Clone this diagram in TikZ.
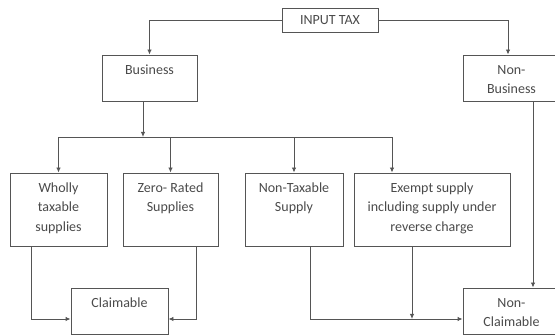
\documentclass[tikz,border=0pt]{standalone}
\usepackage{fontspec}
\setmainfont{Carlito}
\usetikzlibrary{arrows.meta,positioning}
\definecolor{linegray}{HTML}{555555}
\definecolor{textgray}{HTML}{4A4A4A}

\begin{document}
\begin{tikzpicture}[x=1pt,y=-1pt]

\tikzset{box/.style 2 args = {draw=linegray, line width=0.9pt, inner sep=0pt, minimum width=#1, minimum height=#2}}
\tikzset{txt/.style = {text=textgray, font=\fontsize{14}{19.5}\selectfont, align=center, inner sep=0pt, anchor=north}}
\tikzset{edge1/.style = {-{Latex[length=5pt,width=4.5pt]}, draw=linegray, line width=0.9pt}}

\useasboundingbox (0,0) rectangle (555,336);

% boxes
\node[box={96}{24}, text=textgray, font=\fontsize{14}{19.5}\selectfont] (tax) at (330,20) {INPUT TAX};
\node[box={95}{46}] (bus) at (149.5,78) {};
\node[box={97}{46}] (nonbus) at (511.5,78) {};
\node[box={97}{73}] (wholly) at (58.5,209.5) {};
\node[box={95}{73}] (zero) at (170.5,209.5) {};
\node[box={98}{73}] (nontax) at (294,209.5) {};
\node[box={156}{73}] (exempt) at (432,209.5) {};
\node[box={97}{46}] (claim) at (119.5,311) {};
\node[box={97}{46}] (nonclaim) at (511.5,311) {};

% texts
\node[txt] (busT) at ([yshift=-5.85pt]bus.north) {\strut Business};
\node[txt] (nonbusT) at ([yshift=-5.85pt]nonbus.north) {\strut Non-\\Business};
\node[txt] (whollyT) at ([yshift=-5.85pt]wholly.north) {\strut Wholly\\taxable\\supplies};
\node[txt] (zeroT) at ([yshift=-5.85pt]zero.north) {\strut Zero- Rated\\Supplies};
\node[txt] (nontaxT) at ([yshift=-5.85pt]nontax.north) {\strut Non-Taxable\\Supply};
\node[txt] (exemptT) at ([yshift=-5.85pt]exempt.north) {\strut Exempt supply\\including supply under\\reverse charge};
\node[txt] (claimT) at ([yshift=-5.85pt]claim.north) {\strut Claimable};
\node[txt] (nonclaimT) at ([yshift=-5.85pt]nonclaim.north) {\strut Non-\\Claimable};

\coordinate (hub) at (143,137);
\coordinate (meet) at (412,319);

%edges
\draw[edge1] (tax.west) -| (bus.north);
\draw[edge1] (tax.east) -| ([xshift=-3.5pt]nonbus.north);
\draw[edge1] ([xshift=-6.5pt]bus.south) -- (hub);
\draw[edge1] (hub) -| (wholly.north);
\draw[edge1] (hub) -| (zero.north);
\draw[edge1] (hub) -| (nontax.north);
\draw[edge1] (hub) -| ([xshift=-40pt]exempt.north);

\draw[edge1] ([xshift=-27.5pt]wholly.south) |- ([yshift=-8pt]claim.west);
\draw[edge1] ([xshift=25.5pt]zero.south) |- ([yshift=-8pt]claim.east);
\draw[edge1] ([xshift=16pt]nontax.south) |- ([yshift=-8pt]nonclaim.west);
\draw[edge1] ([xshift=-20pt]exempt.south) -- (meet);
\draw[edge1] ([xshift=21.5pt]nonbus.south) -- ([xshift=21.5pt]nonclaim.north);

\end{tikzpicture}
\end{document}
